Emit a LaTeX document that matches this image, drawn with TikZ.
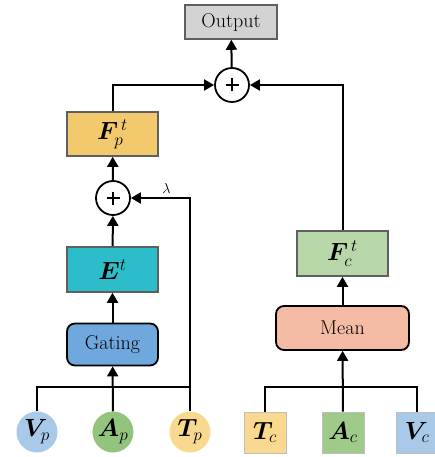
\documentclass[tikz,border=0pt]{standalone}
\usepackage{amsmath,bm}
\usepackage{fontspec}
\usetikzlibrary{arrows.meta}
\definecolor{outfill}{HTML}{D3D3D3}
\definecolor{fpfill}{HTML}{F2C96D}
\definecolor{efill}{HTML}{2DBDCA}
\definecolor{gatefill}{HTML}{6FA8DC}
\definecolor{fcfill}{HTML}{B7D7A8}
\definecolor{meanfill}{HTML}{F4BCA4}
\definecolor{vfill}{HTML}{A9C9E8}
\definecolor{afill}{HTML}{93C47D}
\definecolor{tfill}{HTML}{F9D98F}
\definecolor{bordergray}{HTML}{5F5F5F}
\begin{document}
\begin{tikzpicture}[x=1pt,y=-1pt,
  box/.style={draw=bordergray,line width=1.6pt,minimum width=91pt,minimum height=45pt,inner sep=0pt},
  rbox/.style={draw=black,line width=1.8pt,rounded corners=8pt,minimum height=42pt,inner sep=0pt,font=\fontsize{20}{22}\selectfont},
  sumc/.style={circle,draw=black,line width=1.8pt,minimum size=34pt,inner sep=0pt,fill=white,
    path picture={\draw[line width=2.3pt] ([xshift=-6.5pt]path picture bounding box.center) -- ([xshift=6.5pt]path picture bounding box.center);
                  \draw[line width=2.3pt] ([yshift=-6.5pt]path picture bounding box.center) -- ([yshift=6.5pt]path picture bounding box.center);}},
  inc/.style={circle,minimum size=41pt,inner sep=0pt},
  insq/.style={draw=black!25,line width=0.8pt,minimum width=42pt,minimum height=41pt,inner sep=0pt},
  arr/.style={line width=2pt,-{Triangle[length=10pt,width=11pt]}},
  ln/.style={line width=2pt},
  lab/.style={font=\fontsize{24}{26}\selectfont}
]
\useasboundingbox (0,0) rectangle (435,457);
% top
\node[box,fill=outfill,minimum width=92pt,minimum height=34pt,font=\fontsize{20}{22}\selectfont] (out) at (231,22) {Output};
\node[sumc] (pt) at (232,85) {};
% left branch
\node[box,fill=fpfill,minimum height=44pt,lab] (fp) at (112.5,134) {$\bm{F}_{p}^{\,t}$};
\node[sumc] (pm) at (113,198) {};
\node[box,fill=efill,lab] (e) at (112.5,269.5) {$\bm{E}^{t}$};
\node[rbox,fill=gatefill,minimum width=91pt] (gate) at (112.5,344.5) {Gating};
\node[inc,fill=vfill,lab] (vp) at (37,432) {$\bm{V}_{p}$};
\node[inc,fill=afill,lab] (ap) at (113,432) {$\bm{A}_{p}$};
\node[inc,fill=tfill,lab] (tp) at (190,432) {$\bm{T}_{p}$};
% right branch
\node[box,fill=fcfill,lab] (fc) at (342.5,253.5) {$\bm{F}_{c}^{\,t}$};
\node[rbox,fill=meanfill,minimum width=133pt,minimum height=44pt] (mean) at (342.5,328) {Mean};
\node[insq,fill=tfill,lab] (tc) at (265,432.5) {$\bm{T}_{c}$};
\node[insq,fill=afill!90!white,lab] (ac) at (343,432.5) {$\bm{A}_{c}$};
\node[insq,fill=vfill,lab] (vc) at (417,432.5) {$\bm{V}_{c}$};
\coordinate (jl) at (0,387);
% connectors
\draw[arr] (pt) -- (out);
\draw[arr] (fp.north) |- (pt.west);
\draw[arr] (fc.north) |- (pt.east);
\draw[arr] (pm) -- (fp);
\draw[arr] (e) -- (pm);
\draw[arr] (tp.north) |- node[pos=0.7,above=0pt,font=\fontsize{14}{15}\selectfont] {$\lambda$} (pm.east);
\draw[arr] (gate) -- (e);
\draw[arr] (ap) -- (gate);
\draw[ln] (vp.north) -- (vp.north |- jl) -- (tp.north |- jl);
\draw[arr] (mean) -- (fc);
\draw[arr] (ac) -- (mean);
\draw[ln] (tc.north) -- (tc.north |- jl) -- (vc.north |- jl) -- (vc.north);
\end{tikzpicture}
\end{document}
